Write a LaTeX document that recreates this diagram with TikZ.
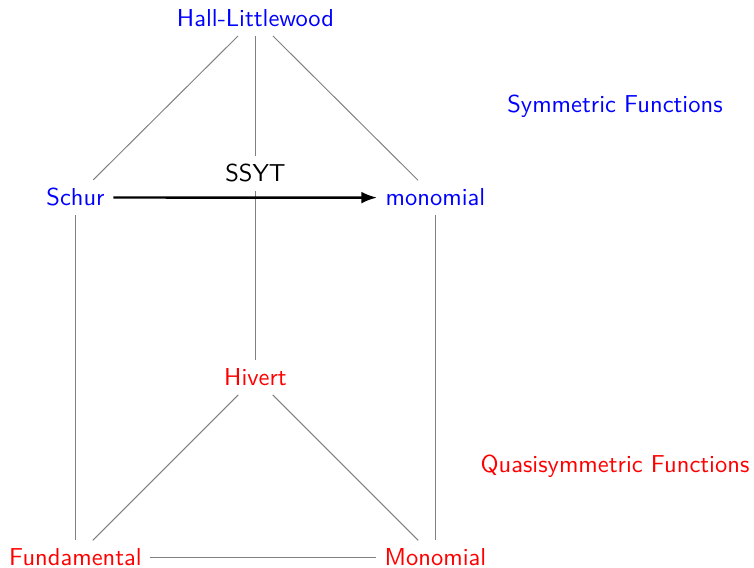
\documentclass[tikz,border=0pt]{standalone}
\usetikzlibrary{arrows.meta}
\begin{document}
\begin{tikzpicture}[x=0.4082pt,y=-0.4082pt,
  every node/.style={font=\sffamily},
  sym/.style={text=blue,anchor=base},
  qsym/.style={text=red,anchor=base},
  edge/.style={draw=gray,line width=0.4pt},
  mainarrow/.style={draw=black,line width=1pt,-{Latex[length=6.4pt,width=4.8pt]}}]
\useasboundingbox (0,0) rectangle (754,568);
\node[sym] (hl) at (255.5,27) {Hall-Littlewood};
\node[sym] (schur) at (75.5,206) {Schur};
\node[sym] (mono) at (435.5,206) {monomial};
\node[qsym] (hiv) at (255.5,386) {Hivert};
\node[qsym] (fund) at (75.5,566) {Fundamental};
\node[qsym] (Mono) at (435.5,566) {Monomial};
\node[sym] (symf) at (615,113) {Symmetric Functions};
\node[qsym] (qsymf) at (615,473) {Quasisymmetric Functions};
\draw[edge] (hl) -- (schur);
\draw[edge] (hl) -- (mono);
\draw[edge] (hl) -- (hiv);
\draw[edge] (schur) -- (fund);
\draw[edge] (mono) -- (Mono);
\draw[edge] (hiv) -- (fund);
\draw[edge] (hiv) -- (Mono);
\draw[edge] (fund) -- (Mono);
\node[anchor=base,fill=white] (ssyt) at (255.5,182) {SSYT};
\draw[mainarrow] (schur) -- (mono);
\end{tikzpicture}
\end{document}
